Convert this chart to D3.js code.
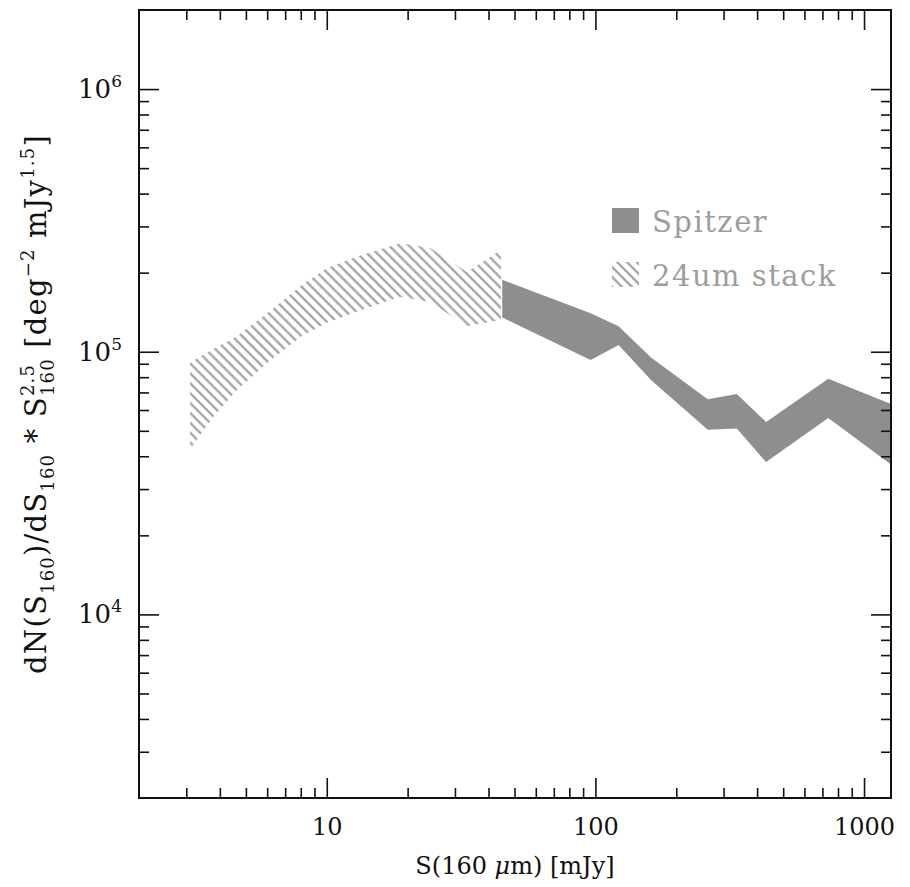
<!DOCTYPE html>
<html>
<head>
<meta charset="utf-8">
<script src="https://cdn.jsdelivr.net/npm/d3@7"></script>
<style>
  body { margin: 0; background: #fff; }
  svg { display: block; font-family: "DejaVu Serif", "Liberation Serif", serif; }
</style>
</head>
<body>
<div id="chart"></div>
<script>
// Spitzer counts band (flux in mJy, upper / lower edge)
const spitzerFlux = [45, 96, 122, 161, 262, 336, 432, 736, 1270];
const spitzerHigh = [1.88e5, 1.40e5, 1.25e5, 9.5e4, 6.6e4, 6.9e4, 5.4e4, 7.9e4, 6.3e4];
const spitzerLow  = [1.35e5, 9.3e4, 1.06e5, 7.8e4, 5.05e4, 5.1e4, 3.8e4, 5.6e4, 3.7e4];

// 24um stacking band
const stackFlux = [3.1, 3.75, 4.6, 6.1, 8.1, 10, 12.9, 18.7, 24.2, 33.2, 44.5];
const stackHigh = [9.1e4, 1.02e5, 1.14e5, 1.42e5, 1.8e5, 2.08e5, 2.3e5, 2.59e5, 2.49e5, 2.01e5, 2.44e5];
const stackLow  = [4.25e4, 5.6e4, 7.1e4, 9.2e4, 1.15e5, 1.29e5, 1.42e5, 1.62e5, 1.55e5, 1.25e5, 1.32e5];

const xMajor = [10, 100, 1000];
const yMajor = [1e4, 1e5, 1e6];
const legendLabels = ["Spitzer", "24um stack"];

const width = 910, height = 887;
const margin = { top: 10, right: 19, bottom: 89, left: 139 };
const grey = "#8e8e8e";

const svg = d3.select("#chart").append("svg")
    .attr("width", width)
    .attr("height", height);

const x = d3.scaleLog().domain([2, 1260]).range([margin.left, width - margin.right]);
const y = d3.scaleLog().domain([2000, 2e6]).range([height - margin.bottom, margin.top]);

const defs = svg.append("defs");
defs.append("clipPath").attr("id", "plotclip")
    .append("rect")
    .attr("x", margin.left).attr("y", margin.top)
    .attr("width", width - margin.left - margin.right)
    .attr("height", height - margin.top - margin.bottom);

const hatch = defs.append("pattern")
    .attr("id", "hatch")
    .attr("patternUnits", "userSpaceOnUse")
    .attr("width", 10).attr("height", 7)
    .attr("patternTransform", "rotate(45)");
hatch.append("line")
    .attr("x1", 0).attr("x2", 10)
    .attr("y1", 3.5).attr("y2", 3.5)
    .attr("stroke", "#959595")
    .attr("stroke-width", 2);

function rows(fx, hi, lo) {
    return fx.map((f, i) => ({ f: f, hi: hi[i], lo: lo[i] }));
}

const area = d3.area()
    .x(d => x(d.f))
    .y0(d => y(d.lo))
    .y1(d => y(d.hi));

const plot = svg.append("g").attr("clip-path", "url(#plotclip)");
plot.append("path")
    .datum(rows(stackFlux, stackHigh, stackLow))
    .attr("d", area)
    .attr("fill", "url(#hatch)");
plot.append("path")
    .datum(rows(spitzerFlux, spitzerHigh, spitzerLow))
    .attr("d", area)
    .attr("fill", grey);

// ticks on all four sides, pointing inward
const xMinor = x.ticks().filter(t => xMajor.indexOf(t) < 0 && t > 2);
const yMinor = y.ticks().filter(t => yMajor.indexOf(t) < 0 && t > 2000 && t < 2e6);
const bottomY = height - margin.bottom, rightX = width - margin.right;

function tickAxis(axisFn, scale, vals, size, transform) {
    const g = svg.append("g")
        .attr("transform", transform)
        .call(axisFn(scale).tickValues(vals).tickSize(-size).tickFormat(""));
    g.select(".domain").remove();
    g.selectAll(".tick line").attr("stroke", "#111").attr("stroke-width", 1.6);
    return g;
}
[[d3.axisBottom, `translate(0,${bottomY})`], [d3.axisTop, `translate(0,${margin.top})`]]
    .forEach(([fn, tr]) => {
        tickAxis(fn, x, xMinor, 10, tr);
        tickAxis(fn, x, xMajor, 20, tr);
    });
[[d3.axisLeft, `translate(${margin.left},0)`], [d3.axisRight, `translate(${rightX},0)`]]
    .forEach(([fn, tr]) => {
        tickAxis(fn, y, yMinor, 10, tr);
        tickAxis(fn, y, yMajor, 20, tr);
    });

// tick labels
const xLabels = svg.append("g")
    .attr("transform", `translate(0,${bottomY})`)
    .call(d3.axisBottom(x).tickValues(xMajor).tickSize(0).tickPadding(20)
        .tickFormat(d3.format("d")));
xLabels.select(".domain").remove();
xLabels.selectAll(".tick text")
    .attr("font-family", "DejaVu Serif, serif")
    .attr("font-size", 24)
    .attr("fill", "#111");

const yLabels = svg.append("g")
    .attr("transform", `translate(${margin.left},0)`)
    .call(d3.axisLeft(y).tickValues(yMajor).tickSize(0).tickPadding(17)
        .tickFormat(""));
yLabels.select(".domain").remove();
yLabels.selectAll(".tick text")
    .attr("font-family", "DejaVu Serif, serif")
    .attr("font-size", 26)
    .attr("fill", "#111")
    .each(function (d) {
        const t = d3.select(this);
        t.append("tspan").text("10");
        t.append("tspan")
            .attr("font-size", 17)
            .attr("dy", -11)
            .text(Math.round(Math.log10(d)));
    });

svg.append("rect")
    .attr("x", margin.left).attr("y", margin.top)
    .attr("width", rightX - margin.left)
    .attr("height", bottomY - margin.top)
    .attr("fill", "none")
    .attr("stroke", "#111")
    .attr("stroke-width", 2);

// x title
const xTitle = svg.append("text")
    .attr("x", (margin.left + rightX) / 2)
    .attr("y", 874)
    .attr("text-anchor", "middle")
    .attr("font-size", 24)
    .attr("fill", "#111");
xTitle.append("tspan").text("S(160 ");
xTitle.append("tspan").attr("font-style", "italic").text("\u03bc");
xTitle.append("tspan").text("m) [mJy]");

// y title with sub/superscripts
const yTitle = svg.append("text")
    .attr("transform", "translate(46,404) rotate(-90)")
    .attr("text-anchor", "middle")
    .attr("font-size", 29)
    .attr("letter-spacing", 1.2)
    .attr("fill", "#111");
let shift = 0;
function part(str, kind, dx) {
    const target = kind === "sub" ? 8 : kind === "sup" ? -12 : 0;
    const s = yTitle.append("tspan")
        .attr("dy", target - shift)
        .attr("font-size", kind ? 18 : 29)
        .text(str);
    if (dx) s.attr("dx", dx);
    shift = target;
    return s;
}
part("dN(S");
part("160", "sub");
part(")/dS");
part("160", "sub");
part(" * S");
const sup = part("2.5", "sup");
part("160", "sub", -sup.node().getComputedTextLength());
part(" [deg");
part("\u22122", "sup");
part(" mJy");
part("1.5", "sup");
part("]");

// legend
const legend = svg.append("g").attr("transform", "translate(612,208)");
legendLabels.forEach((label, i) => {
    const row = legend.append("g").attr("transform", `translate(0,${i * 54})`);
    row.append("rect")
        .attr("width", 27).attr("height", 25)
        .attr("fill", i === 0 ? grey : "url(#hatch)");
    row.append("text")
        .attr("x", 40).attr("y", 24)
        .attr("font-size", 29)
        .attr("letter-spacing", 1.5)
        .attr("fill", "#9d9d9d")
        .text(label);
});
</script>
</body>
</html>
